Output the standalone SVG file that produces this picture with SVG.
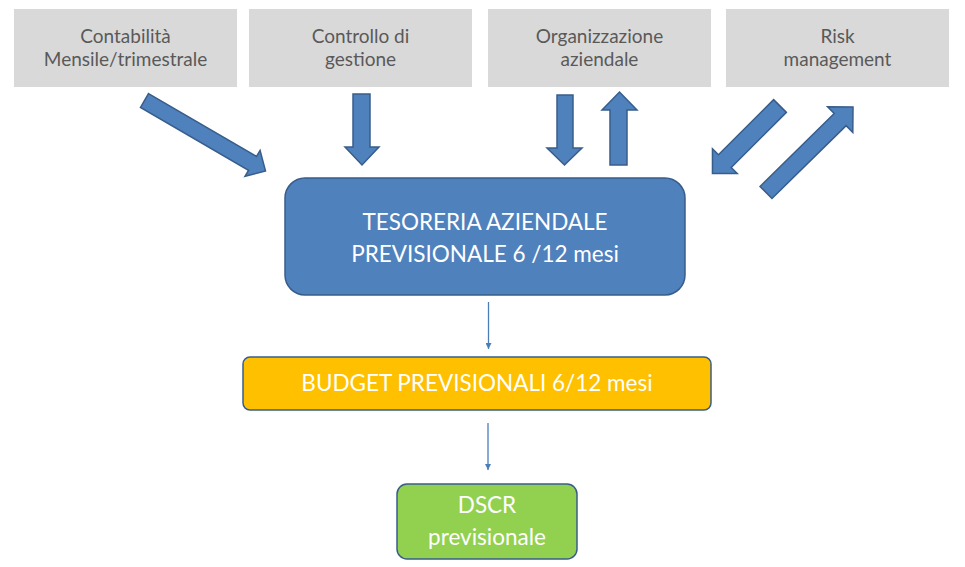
<svg xmlns="http://www.w3.org/2000/svg" width="965" height="567" viewBox="0 0 965 567">
<defs>
<style>
.src{fill:#D9D9D9}
.srct{font-family:Lato,"Liberation Sans",sans-serif;font-size:19px;fill:#595959;text-anchor:middle}
.blk{fill:#4F81BD;stroke:#385D8A;stroke-width:1.5;stroke-linejoin:miter}
.wt{font-family:Lato,"Liberation Sans",sans-serif;fill:#FFFFFF;text-anchor:middle;font-size:22.5px}
.conn{stroke:#4A7EBB;stroke-width:1.3;fill:none}
</style>
<marker id="ah" viewBox="0 0 10 10" refX="10" refY="5" markerWidth="6" markerHeight="6" markerUnits="userSpaceOnUse" orient="auto">
<path d="M0,0 L10,5 L0,10 Z" fill="#4A7EBB"/>
</marker>
</defs>
<rect width="965" height="567" fill="#FFFFFF"/>

<g id="contabilita">
<rect class="src" x="14" y="9" width="223" height="78"/>
<text class="srct" x="125.5" y="43">Contabilità</text>
<text class="srct" x="125.5" y="66">Mensile/trimestrale</text>
</g>
<g id="controllo">
<rect class="src" x="249" y="9" width="223" height="78"/>
<text class="srct" x="360.5" y="43">Controllo di</text>
<text class="srct" x="360.5" y="66">gestione</text>
</g>
<g id="organizzazione">
<rect class="src" x="488" y="9" width="223" height="78"/>
<text class="srct" x="599.5" y="43">Organizzazione</text>
<text class="srct" x="599.5" y="66">aziendale</text>
</g>
<g id="risk">
<rect class="src" x="726" y="9" width="223" height="78"/>
<text class="srct" x="837.5" y="43">Risk</text>
<text class="srct" x="837.5" y="66">management</text>
</g>

<g id="tesoreria">
<rect x="285" y="178" width="400" height="117" rx="20" ry="20" fill="#4F81BD" stroke="#385D8A" stroke-width="1.5"/>
<text class="wt" x="485" y="230">TESORERIA AZIENDALE</text>
<text class="wt" x="485" y="262">PREVISIONALE 6 /12 mesi</text>
</g>
<g id="budget">
<rect x="243" y="357" width="468" height="53" rx="7" ry="7" fill="#FFC000" stroke="#385D8A" stroke-width="1.5"/>
<text class="wt" x="477" y="391">BUDGET PREVISIONALI 6/12 mesi</text>
</g>
<g id="dscr">
<rect x="397" y="484" width="180" height="75" rx="10" ry="10" fill="#92D050" stroke="#385D8A" stroke-width="1.5"/>
<text class="wt" x="487" y="513">DSCR</text>
<text class="wt" x="487" y="545">previsionale</text>
</g>

<g id="connectors">
<polygon class="blk" transform="translate(144.5,100.5) rotate(30.2)" points="0,-8 125,-8 125,-15 140,0 125,15 125,8 0,8"/>
<polygon class="blk" points="353,94 370,94 370,147 379,147 362,165 345,147 353,147"/>
<polygon class="blk" points="557,95 573,95 573,148 582,148 564.5,165 547,148 557,148"/>
<polygon class="blk" points="610,165 627,165 627,110 637,110 619.5,92 602,110 610,110"/>
<polygon class="blk" transform="translate(780,106) rotate(135)" points="0,-9 78,-9 78,-17.5 95.5,0 78,17.5 78,9 0,9"/>
<polygon class="blk" transform="translate(766,192.5) rotate(-44.5)" points="0,-8.5 104,-8.5 104,-18 122,0 104,18 104,8.5 0,8.5"/>
<line class="conn" x1="488.5" y1="302" x2="488.5" y2="349" marker-end="url(#ah)"/>
<line class="conn" x1="488" y1="423" x2="488" y2="470" marker-end="url(#ah)"/>
</g>
</svg>
